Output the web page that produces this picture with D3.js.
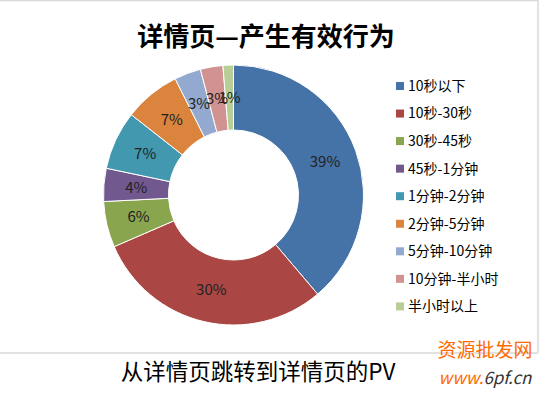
<!DOCTYPE html>
<html><head><meta charset="utf-8">
<script src="https://cdn.jsdelivr.net/npm/d3@7"></script>
<style>html,body{margin:0;padding:0;background:#fff;}svg{display:block;}</style>
</head><body>
<svg id="c" width="546" height="398"></svg>
<script>
const title = "详情页—产生有效行为";
const subtitle = "从详情页跳转到详情页的PV";
const categories = ["10秒以下","10秒-30秒","30秒-45秒","45秒-1分钟","1分钟-2分钟","2分钟-5分钟","5分钟-10分钟","10分钟-半小时","半小时以上"];
const values = [38.8, 29.7, 5.7, 4.1, 7.3, 7.0, 3.3, 2.8, 1.3];
const colors = ["#4572a7","#aa4643","#89a54e","#71588f","#4198af","#db843d","#93a9cf","#d19392","#b9cd96"];

const svg = d3.select("#c");
const font = "'Microsoft YaHei','Noto Sans CJK SC',sans-serif";

// frame lines
svg.append("line").attr("x1",0).attr("x2",538).attr("y1",0.5).attr("y2",0.5).attr("stroke","#d9d9d9").attr("stroke-width",1.5);
svg.append("line").attr("x1",538).attr("x2",538).attr("y1",0).attr("y2",353).attr("stroke","#d9d9d9").attr("stroke-width",1.5);
svg.append("line").attr("x1",0).attr("x2",538).attr("y1",353).attr("y2",353).attr("stroke","#d9d9d9").attr("stroke-width",1.5);

svg.append("text").attr("x",266).attr("y",46).attr("text-anchor","middle")
  .attr("font-family",font).attr("font-weight","bold").attr("font-size",26).attr("fill","#000").text(title);

const cx = 233.5, cy = 195, ro = 130, ri = 65;
const pie = d3.pie().sort(null).value(d=>d)(values);
const arc = d3.arc().innerRadius(ri).outerRadius(ro);
const g = svg.append("g").attr("transform",`translate(${cx},${cy})`);
g.selectAll("path").data(pie).join("path").attr("d",arc)
  .attr("fill",(d,i)=>colors[i]).attr("stroke","#fff").attr("stroke-width",1);
g.selectAll("text").data(pie).join("text")
  .attr("transform",d=>`translate(${arc.centroid(d)})`)
  .attr("text-anchor","middle").attr("dy","0.35em")
  .attr("font-family",font).attr("font-size",15).attr("fill","#222")
  .text(d=>Math.round(d.data)+"%");

const leg = svg.append("g");
categories.forEach((c,i)=>{
  const y = 86 + i*27.55;
  leg.append("rect").attr("x",396).attr("y",y-4).attr("width",8).attr("height",8).attr("fill",colors[i]);
  leg.append("text").attr("x",408).attr("y",y).attr("dy","0.35em")
    .attr("font-family",font).attr("font-size",14).attr("fill","#000").text(c);
});

svg.append("text").attr("x",258).attr("y",380).attr("text-anchor","middle")
  .attr("font-family",font).attr("font-size",22.5).attr("fill","#000").text(subtitle);

// watermark
svg.append("text").attr("x",485).attr("y",357).attr("text-anchor","middle")
  .attr("font-family",font).attr("font-size",19).attr("fill","#ff6a00").text("资源批发网");
const wm = svg.append("text").attr("x",485).attr("y",384).attr("text-anchor","middle")
  .attr("font-family",font).attr("font-size",17).attr("font-style","italic");
wm.append("tspan").attr("fill","#ff6a00").text("www.");
wm.append("tspan").attr("fill","#333").text("6pf.cn");
</script>
</body></html>
